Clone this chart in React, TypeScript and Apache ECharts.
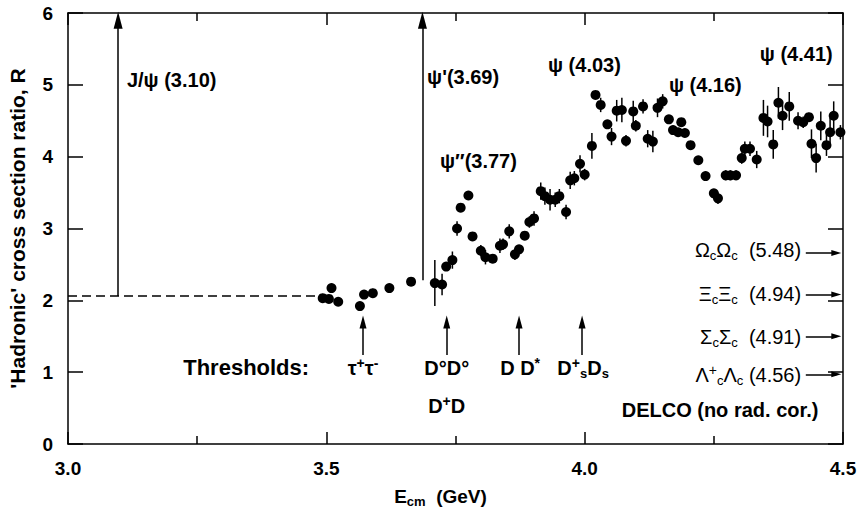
import React, { useEffect, useRef } from 'react';
import * as echarts from 'echarts';

// Measured R values (E_cm in GeV, R, error)
const XS = [3.493, 3.505, 3.51, 3.523, 3.565, 3.573, 3.59, 3.622, 3.664, 3.71, 3.724, 3.732, 3.744, 3.753, 3.76, 3.775, 3.783, 3.799, 3.808, 3.822, 3.836, 3.842, 3.854, 3.865, 3.873, 3.884, 3.893, 3.902, 3.915, 3.923, 3.933, 3.943, 3.951, 3.964, 3.972, 3.98, 3.991, 4.0, 4.014, 4.021, 4.031, 4.044, 4.052, 4.062, 4.072, 4.08, 4.094, 4.099, 4.113, 4.122, 4.132, 4.141, 4.151, 4.163, 4.171, 4.181, 4.187, 4.194, 4.205, 4.22, 4.234, 4.25, 4.258, 4.273, 4.282, 4.293, 4.304, 4.31, 4.32, 4.333, 4.346, 4.354, 4.365, 4.375, 4.383, 4.396, 4.413, 4.423, 4.434, 4.439, 4.448, 4.457, 4.468, 4.475, 4.482, 4.495];
const YS = [2.03, 2.02, 2.17, 1.98, 1.92, 2.08, 2.1, 2.17, 2.26, 2.24, 2.22, 2.47, 2.56, 3.0, 3.29, 3.46, 2.89, 2.69, 2.6, 2.58, 2.76, 2.78, 2.96, 2.64, 2.71, 2.9, 3.09, 3.14, 3.52, 3.45, 3.4, 3.4, 3.45, 3.23, 3.67, 3.7, 3.9, 3.75, 4.15, 4.86, 4.72, 4.45, 4.28, 4.64, 4.65, 4.22, 4.63, 4.43, 4.7, 4.25, 4.21, 4.68, 4.77, 4.52, 4.37, 4.34, 4.48, 4.33, 4.16, 3.95, 3.73, 3.49, 3.42, 3.74, 3.74, 3.74, 3.98, 4.11, 4.11, 3.96, 4.54, 4.49, 4.17, 4.75, 4.57, 4.7, 4.5, 4.48, 4.55, 4.18, 3.98, 4.43, 4.16, 4.34, 4.57, 4.34];
const ERRS = [0.06, 0.04, 0.05, 0.04, 0.05, 0.06, 0.06, 0.04, 0.04, 0.32, 0.15, 0.06, 0.12, 0.1, 0.05, 0.05, 0.05, 0.08, 0.1, 0.06, 0.1, 0.08, 0.1, 0.08, 0.06, 0.05, 0.08, 0.1, 0.12, 0.12, 0.15, 0.1, 0.1, 0.1, 0.12, 0.1, 0.12, 0.08, 0.18, 0.05, 0.1, 0.06, 0.12, 0.15, 0.17, 0.08, 0.15, 0.08, 0.1, 0.12, 0.15, 0.13, 0.1, 0.06, 0.06, 0.06, 0.05, 0.06, 0.06, 0.05, 0.05, 0.06, 0.08, 0.07, 0.07, 0.07, 0.08, 0.1, 0.1, 0.12, 0.25, 0.22, 0.2, 0.22, 0.2, 0.2, 0.12, 0.08, 0.06, 0.2, 0.2, 0.2, 0.15, 0.2, 0.2, 0.1];

// Dashed continuum level below charm
const DASH_X = [3.0, 3.49];
const DASH_Y = 2.06;

// Narrow resonances (arrows): x, R from, R to
const RES_X = [3.097, 3.686];
const RES_FROM = [2.06, 2.28];
const RES_TO = [5.9, 5.9];

// Thresholds (bottom arrows)
const THRESH_X = [3.571, 3.733, 3.873, 3.995];
const THRESH_FROM = 1.24;
const THRESH_TO = 1.7;

// Baryon thresholds beyond range (right arrows)
const BARYON_Y = [2.66, 2.08, 1.5, 0.97];
const BARYON_X = [4.428, 4.487];

const X_MIN = 3.0, X_MAX = 4.5, X_INT = 0.5;
const Y_MIN = 0, Y_MAX = 6, Y_INT = 1;

const FONT = 'Liberation Sans';

export default function App() {
  const ref = useRef<HTMLDivElement>(null);
  useEffect(() => {
    const chart = echarts.init(ref.current!, null, { renderer: 'svg' });
    const black = '#000';
    const line = { lineStyle: { color: black, width: 1.5 } };

    const markLineData: any[] = [];
    RES_X.forEach((x, i) => {
      markLineData.push([
        { coord: [x, RES_FROM[i]], symbol: 'none' },
        { coord: [x, RES_TO[i]], symbol: 'triangle', symbolSize: [9, 17] },
      ]);
    });
    THRESH_X.forEach((x) => {
      markLineData.push([
        { coord: [x, THRESH_FROM], symbol: 'none' },
        { coord: [x, THRESH_TO], symbol: 'triangle', symbolSize: [7, 13] },
      ]);
    });
    BARYON_Y.forEach((y) => {
      markLineData.push([
        { coord: [BARYON_X[0], y], symbol: 'none' },
        { coord: [BARYON_X[1], y], symbol: 'triangle', symbolSize: [6, 10] },
      ]);
    });

    const xAxisBase = {
      type: 'value', min: X_MIN, max: X_MAX, interval: X_INT,
      axisLine: { show: true, onZero: false, ...line },
      axisTick: { show: true, inside: true, length: 12, lineStyle: { color: black, width: 1.5 } },
      minorTick: { show: true, splitNumber: 2, length: 8, lineStyle: { color: black, width: 1.5 } },
      splitLine: { show: false },
      minorSplitLine: { show: false },
    };
    const yAxisBase = {
      type: 'value', min: Y_MIN, max: Y_MAX, interval: Y_INT,
      axisLine: { show: true, onZero: false, ...line },
      axisTick: { show: true, inside: true, length: 15, lineStyle: { color: black, width: 1.5 } },
      splitLine: { show: false },
    };

    chart.setOption({
      animation: false,
      backgroundColor: '#fff',
      grid: { left: 68, right: 18, top: 13, bottom: 73, outerBoundsMode: 'none', containLabel: false },
      xAxis: [
        {
          ...xAxisBase, position: 'bottom',
          axisLabel: { color: black, fontFamily: FONT, fontWeight: 'bold', fontSize: 19, margin: 15, formatter: (v: number) => v.toFixed(1) },
          name: '{n|E}{sub|cm}{n|  (GeV)}', nameLocation: 'middle', nameGap: 40,
          nameTextStyle: {
            color: black, fontFamily: FONT, fontWeight: 'bold', fontSize: 19, padding: [0, 30, 0, 0],
            rich: {
              n: { color: black, fontFamily: FONT, fontWeight: 'bold', fontSize: 19, lineHeight: 24, verticalAlign: 'middle' },
              sub: { color: black, fontFamily: FONT, fontWeight: 'bold', fontSize: 13, lineHeight: 13, verticalAlign: 'bottom' },
            },
          },
        },
        { ...xAxisBase, position: 'top', axisLabel: { show: false } },
      ],
      yAxis: [
        {
          ...yAxisBase, position: 'left',
          axisLabel: { color: black, fontFamily: FONT, fontWeight: 'bold', fontSize: 19, margin: 15 },
          name: "'Hadronic' cross section ratio, R", nameLocation: 'middle', nameGap: 40, nameRotate: 90,
          nameTextStyle: { color: black, fontFamily: FONT, fontWeight: 'bold', fontSize: 21 },
        },
        { ...yAxisBase, position: 'right', axisLabel: { show: false } },
      ],
      series: [
        {
          type: 'line', data: DASH_X.map((x) => [x, DASH_Y]), symbol: 'none', silent: true,
          lineStyle: { color: black, width: 1.5, type: [9, 5] },
          markLine: {
            silent: true, animation: false, label: { show: false }, emphasis: { disabled: true },
            lineStyle: { color: black, width: 1.5, type: 'solid' },
            symbol: ['none', 'triangle'],
            data: markLineData,
          },
        },
        {
          type: 'custom', silent: true,
          data: XS.map((x, i) => [x, YS[i], ERRS[i]]),
          encode: { x: 0, y: 1 },
          renderItem: (_p: any, api: any) => {
            const x = api.value(0), y = api.value(1), e = api.value(2);
            const a = api.coord([x, y + e]);
            const b = api.coord([x, y - e]);
            return { type: 'line', shape: { x1: a[0], y1: a[1], x2: b[0], y2: b[1] }, style: { stroke: black, lineWidth: 1.5 } };
          },
        },
        {
          type: 'scatter', data: XS.map((x, i) => [x, YS[i]]), symbol: 'circle', symbolSize: 10,
          itemStyle: { color: black, opacity: 1 }, silent: true,
        },
      ],
    });

    const richN = (w: string, size = 20) => ({
      n: { fill: black, color: black, fontFamily: FONT, fontWeight: w, fontSize: size, lineHeight: 24, verticalAlign: 'middle' },
      sub: { fill: black, color: black, fontFamily: FONT, fontWeight: w, fontSize: 13, lineHeight: 13, verticalAlign: 'bottom' },
      sup: { fill: black, color: black, fontFamily: FONT, fontWeight: w, fontSize: 14, lineHeight: 13, verticalAlign: 'top' },
    });

    const ANN: { t: string; x: number; y: number; align: string; w?: string; s?: number }[] = [
      { t: 'J/ψ (3.10)', x: 3.114, y: 5.07, align: 'left' },
      { t: "ψ'(3.69)", x: 3.695, y: 5.11, align: 'left' },
      { t: 'ψ″(3.77)', x: 3.72, y: 3.94, align: 'left' },
      { t: 'ψ (4.03)', x: 3.929, y: 5.28, align: 'left' },
      { t: 'ψ (4.16)', x: 4.163, y: 5.0, align: 'left' },
      { t: 'ψ (4.41)', x: 4.339, y: 5.43, align: 'left' },
      { t: 'Thresholds:', x: 3.223, y: 1.06, align: 'left', s: 22 },
      { t: '{n|τ}{sup|+}{n|τ}{sup|-}', x: 3.571, y: 1.06, align: 'center' },
      { t: 'D°D°', x: 3.733, y: 1.06, align: 'center' },
      { t: '{n|D}{sup|+}{n|D}', x: 3.733, y: 0.53, align: 'center' },
      { t: '{n|D D}{sup|*}', x: 3.875, y: 1.06, align: 'center' },
      { t: '{n|D}{sup|+}{sub|s}{n|D}{sub|s}', x: 3.997, y: 1.06, align: 'center' },
      { t: '{n|Ω}{sub|c}{n|Ω}{sub|c}{n|  (5.48)}', x: 4.419, y: 2.7, align: 'right', w: 'normal' },
      { t: '{n|Ξ}{sub|c}{n|Ξ}{sub|c}{n|  (4.94)}', x: 4.419, y: 2.09, align: 'right', w: 'normal' },
      { t: '{n|Σ}{sub|c}{n|Σ}{sub|c}{n|  (4.91)}', x: 4.419, y: 1.49, align: 'right', w: 'normal' },
      { t: '{n|Λ}{sup|+}{sub|c}{n|Λ}{sub|c}{n| (4.56)}', x: 4.419, y: 0.96, align: 'right', w: 'normal' },
      { t: 'DELCO (no rad. cor.)', x: 4.262, y: 0.47, align: 'center' },
    ];

    const graphic = ANN.map((a) => {
      const p = chart.convertToPixel({ seriesIndex: 2 }, [a.x, a.y]) as number[];
      const w = a.w || 'bold';
      const size = a.s || 20;
      const isRich = a.t.includes('{n|');
      return {
        type: 'text', x: p[0], y: p[1], silent: true,
        style: {
          text: a.t,
          fill: black, fontFamily: FONT, fontWeight: w, fontSize: size,
          align: a.align, verticalAlign: 'middle', textAlign: a.align, textVerticalAlign: 'middle',
          rich: isRich ? richN(w, size) : undefined,
        },
      };
    });
    chart.setOption({ graphic });

    return () => chart.dispose();
  }, []);
  return <div ref={ref} style={{ position: 'fixed', left: 0, top: 0, width: 861, height: 517, background: '#fff' }} />;
}
